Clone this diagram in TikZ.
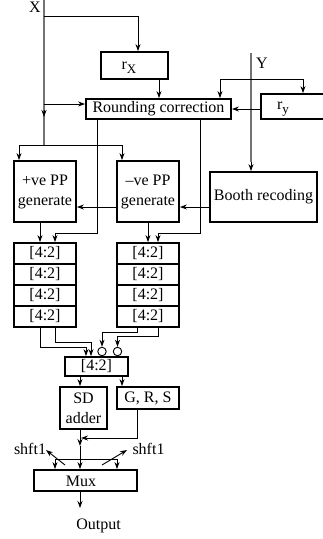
\documentclass[tikz,border=0pt]{standalone}
\usepackage{fontspec}
\setmainfont{Liberation Serif}
\usetikzlibrary{arrows.meta,calc}
\newcommand{\mysub}[1]{\raisebox{-4pt}{\fontsize{13}{13}\selectfont #1}}
\begin{document}
\begin{tikzpicture}[x=1pt,y=-1pt,
  font=\fontsize{16}{20}\selectfont,
  box/.style={draw,line width=1.8pt,inner sep=0pt,fill=white,align=center},
  conn/.style={line width=0.9pt},
  arr/.style={conn,-{Stealth[length=7pt,width=5pt]}},
  darr/.style={conn,{Stealth[length=7pt,width=5pt]}-{Stealth[length=7pt,width=5pt]}},
  bus/.style={line width=1.6pt,draw=black!55},
  lbl/.style={inner sep=0pt}
]
\useasboundingbox (0,0) rectangle (322,539);

% ---------- boxes ----------
\node[box,minimum width=67,minimum height=27] (rx) at (134.5,65.5) {};
\node[lbl] (rxl) at (129,68) {r\mysub{X}};
\node[box,minimum width=145,minimum height=20] (rc) at (158.5,109) {Rounding correction};
\node[box,minimum width=64,minimum height=25] (ry) at (293,106.5) {};
\node[lbl] (ryl) at (283,109) {r\mysub{y}};
\node[box,minimum width=62,minimum height=61] (ppp) at (45,191.5) {+ve PP\\generate};
\node[box,minimum width=62,minimum height=61] (npp) at (148,191.5) {–ve PP\\generate};
\node[box,minimum width=107,minimum height=50] (booth) at (263.5,197) {Booth recoding};
\foreach \i in {0,1,2,3}{
  \node[box,minimum width=62,minimum height=21] (L\i) at (45,253.5+21*\i) {[4:2]};
  \node[box,minimum width=62,minimum height=21] (R\i) at (148,253.5+21*\i) {[4:2]};
}
\node[box,minimum width=63,minimum height=19] (b42) at (96.5,366.5) {[4:2]};
\node[box,minimum width=47,minimum height=42] (sd) at (83.5,408) {SD\\adder};
\node[box,minimum width=62,minimum height=22] (grs) at (148,398) {G, R, S};
\node[box,minimum width=103,minimum height=21] (mux) at (85.5,480.5) {};
\node[lbl] (muxl) at (81,481) {Mux};
\node[draw,circle,conn,minimum size=8.5,inner sep=0pt] (c1) at (102,351.5) {};
\node[draw,circle,conn,minimum size=8.5,inner sep=0pt] (c2) at (117.5,351.5) {};

% ---------- labels ----------
\node[lbl] (xl) at (35,7) {X};
\node[lbl] (yl) at (262,63) {Y};
\node[lbl] (sh1) at (30,449) {shft1};
\node[lbl] (sh2) at (148.5,449) {shft1};
\node[lbl] (out) at (98.5,526) {Output};

% ---------- X input ----------
\coordinate (xtop) at (44,0);
\coordinate (xbot) at (44,145);
\coordinate (xm) at (44,117);
\coordinate (x1) at (44,16);
\coordinate (x2) at (44,104);
\draw[bus] (xtop) -- (xbot);
\draw[arr] ($(xm)+(0,-7)$) -- (xm);
\draw[arr] (x1) -| ([xshift=3.5pt]rx.north);
\draw[arr] (x2) -- (x2 -| rc.west);
\draw[arr] ([xshift=24.5pt]rx.south) -- ([xshift=0.5pt]rc.north);
\coordinate (pl) at (19,145);
\coordinate (pr) at (122,145);
\draw[darr] (pl |- ppp.north) -- (pl) -- (pr) -- (pr |- npp.north);

% ---------- Y input ----------
\coordinate (ytop) at (251,53);
\coordinate (ymid) at (251,162);
\draw[bus] (ytop) -- (ymid);
\draw[arr] (ymid) -- (ymid |- booth.north);
\coordinate (y1) at (220,79);
\coordinate (y2) at (303,79);
\draw[darr] (y1 |- rc.north) -- (y1) -- (y2) -- (y2 |- ry.north);
\draw[arr] (ry.west |- rc.east) -- (rc.east);

% ---------- rounding correction to stacks ----------
\coordinate (ra) at (97,233);
\coordinate (ra2) at (55,233);
\draw[arr] (rc.south -| ra) -- (ra) -- (ra2) -- (ra2 |- L0.north);
\coordinate (rb) at (200,233);
\coordinate (rb2) at (158,233);
\draw[arr] (rc.south -| rb) -- (rb) -- (rb2) -- (rb2 |- R0.north);
\draw[arr] ([xshift=-5pt]ppp.south) -- ([xshift=-5pt]L0.north);
\draw[arr] (npp.south) -- (R0.north);

% ---------- booth ----------
\coordinate (bq) at (0,207);
\draw[arr] (booth.west |- bq) -- (npp.east |- bq);
\draw[arr] (npp.west |- bq) -- (ppp.east |- bq);

% ---------- stacks to final 4:2 ----------
\coordinate (la1) at (40,347);
\coordinate (la2) at (86,347);
\draw[arr] (L3.south -| la1) -- (la1) -- (la2) -- (la2 |- b42.north);
\coordinate (lb1) at (55,342);
\coordinate (lb2) at (91,342);
\draw[arr] (L3.south -| lb1) -- (lb1) -- (lb2) -- (lb2 |- b42.north);
\coordinate (rc1) at (137,332);
\coordinate (rc2) at (102,332);
\draw[arr] (R3.south -| rc1) -- (rc1) -- (rc2) -- (c1.north);
\coordinate (rd1) at (158,336);
\coordinate (rd2) at (117.5,336);
\draw[arr] (R3.south -| rd1) -- (rd1) -- (rd2) -- (c2.north);

% ---------- final stage ----------
\coordinate (sdx) at (80,0);
\coordinate (gx) at (122,0);
\draw[arr] (b42.south -| sdx) -- (sd.north -| sdx);
\draw[arr] (b42.south -| gx) -- (grs.north -| gx);
\coordinate (sm) at (80,446);
\draw[arr] (sd.south -| sm) -- (sm);
\draw[arr] (sm) -- (mux.north -| sm);
\coordinate (g1) at (137,438);
\coordinate (g2) at (81,438);
\draw[arr] (grs.south -| g1) -- (g1) -- (g2);
\coordinate (s1) at (55,459);
\coordinate (s2) at (117,459);
\draw[darr] (s1 |- mux.north) -- (s1) -- (s2) -- (s2 |- mux.north);
\coordinate (d1a) at (65,465);
\coordinate (d1b) at (46,450);
\draw[arr] (d1a) -- (d1b);
\coordinate (d2a) at (102,465);
\coordinate (d2b) at (127,450);
\draw[arr] (d2a) -- (d2b);
\coordinate (o1) at (80,508);
\draw[arr] (mux.south -| o1) -- (o1);
\end{tikzpicture}
\end{document}
